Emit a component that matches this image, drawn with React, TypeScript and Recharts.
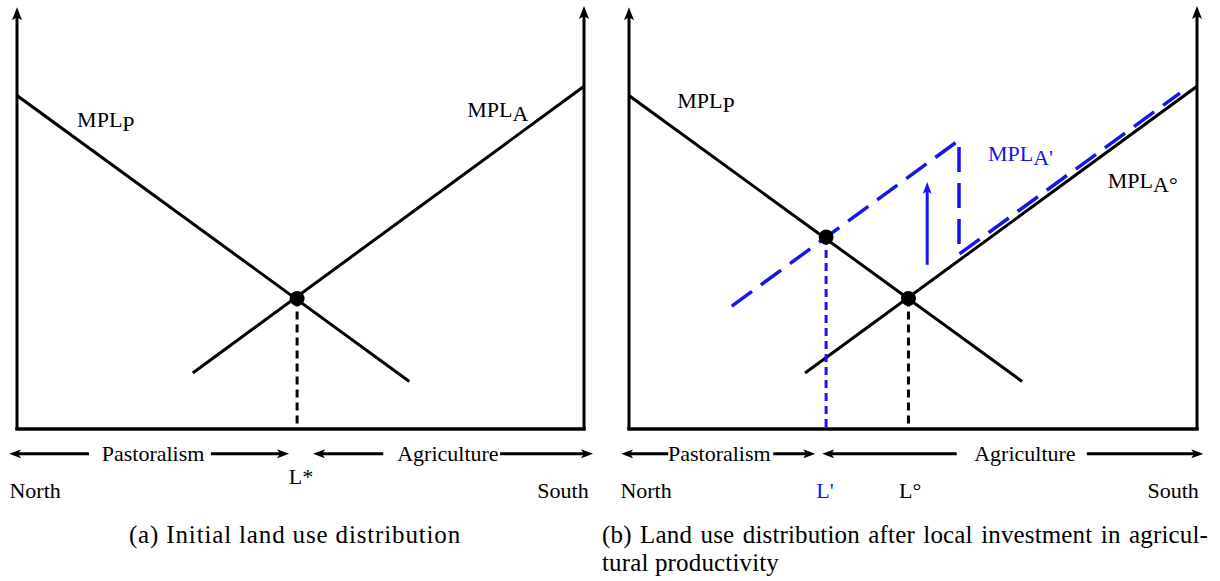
import React from 'react'
import { LineChart, Line, XAxis, YAxis, ReferenceLine, ReferenceDot } from 'recharts'

const FONT = '"Liberation Serif", "Times New Roman", serif'
const BLUE = '#1616e8'

// x: land, North (0) -> South (100); y: marginal product of labour (0-100)
const mplP = [{ x: 0, y: 79.2 }, { x: 69.2, y: 11.3 }]
const mplA = [{ x: 31, y: 13.3 }, { x: 100, y: 81.4 }]
const mplAPrime = [
  { x: 18.1, y: 29.2 },
  { x: 58.1, y: 68.6 },
  { x: 58.1, y: 41.5 },
  { x: 97, y: 79.8 },
]
const lStar = { x: 49.4, y: 31 }
const lPrime = { x: 34.7, y: 45.6 }
const lDeg = { x: 49.2, y: 31 }
const shiftArrow = { x: 52.5, from: 39, to: 57.5 }

// arrows under the axis, [from, to]
const rowY = -5.9
const arrowsA = [[12.7, -0.5], [34.2, 47.1], [64.6, 53.1], [85.2, 100.7]]
const arrowsB = [[6.9, -0.5], [25.4, 31.9], [57.7, 34.9], [80.6, 100.2]]

const rowLabelsA = [
  { x: 24, y: rowY, text: 'Pastoralism' },
  { x: 76, y: rowY, text: 'Agriculture' },
  { x: 50.1, y: -11.4, text: 'L*' },
  { x: 3.2, y: -14.5, text: 'North' },
  { x: 96.3, y: -14.5, text: 'South' },
]
const rowLabelsB = [
  { x: 15.9, y: rowY, text: 'Pastoralism' },
  { x: 69.7, y: rowY, text: 'Agriculture' },
  { x: 34.5, y: -14.5, text: "L'", color: BLUE },
  { x: 49.5, y: -14.5, text: 'L°' },
  { x: 3, y: -14.5, text: 'North' },
  { x: 95.8, y: -14.5, text: 'South' },
]

const curveLabelsA = [
  { x: 10.6, y: 71.7, main: 'MPL', sub: 'P' },
  { x: 79.4, y: 74.1, main: 'MPL', sub: 'A' },
]
const curveLabelsB = [
  { x: 8.5, y: 76.2, main: 'MPL', sub: 'P' },
  { x: 63.2, y: 63.7, main: 'MPL', sub: "A'", color: BLUE },
  { x: 84.3, y: 57.2, main: 'MPL', sub: 'A°' },
]

const txt = (key: string, x: number, y: number, text: string, color = '#000') => (
  <ReferenceDot
    key={key}
    x={x}
    y={y}
    r={0}
    ifOverflow="visible"
    shape={(p: any) => (
      <text x={p.cx} y={p.cy} textAnchor="middle" dominantBaseline="central"
        fontFamily={FONT} fontSize={22} fill={color}>
        {text}
      </text>
    )}
  />
)

const mplLabel = (key: string, l: any) => (
  <ReferenceDot
    key={key}
    x={l.x}
    y={l.y}
    r={0}
    ifOverflow="visible"
    shape={(p: any) => (
      <text x={p.cx} y={p.cy} fontFamily={FONT} fontSize={22} fill={l.color ?? '#000'}>
        <tspan>{l.main}</tspan>
        <tspan dy={4}>{l.sub}</tspan>
      </text>
    )}
  />
)

const arrow = (key: string, x1: number, y1: number, x2: number, y2: number, marker: string, color = '#000', w = 3) => (
  <ReferenceLine
    key={key}
    segment={[{ x: x1, y: y1 }, { x: x2, y: y2 }]}
    stroke={color}
    strokeWidth={w}
    ifOverflow="visible"
    markerEnd={`url(#${marker})`}
  />
)

const frame = (p: string) => [
  arrow(p + 'ax-l', 0, 0, 0, 99, 'axHead'),
  arrow(p + 'ax-r', 100, 0, 100, 99.3, 'axHead'),
  <ReferenceLine key={p + 'ax-b'} segment={[{ x: 0, y: 0 }, { x: 100, y: 0 }]}
    stroke="#000" strokeWidth={3.5} strokeLinecap="square" ifOverflow="visible" />,
]

const axes = [
  <XAxis key="x" type="number" dataKey="x" domain={[0, 100]} hide allowDataOverflow />,
  <YAxis key="y" type="number" dataKey="y" domain={[0, 100]} hide allowDataOverflow />,
]

export default function App() {
  return (
    <div style={{ position: 'absolute', left: 0, top: 0, width: 1220, height: 581, background: '#fff', fontFamily: FONT }}>
      <svg width={0} height={0} style={{ position: 'absolute' }}>
        <defs>
          <marker id="axHead" markerUnits="userSpaceOnUse" markerWidth={13} markerHeight={10}
            viewBox="0 0 13 10" refX={8} refY={5} orient="auto">
            <path d="M0,0 L13,5 L0,10 L3,5 z" fill="#000" />
          </marker>
          <marker id="rowHead" markerUnits="userSpaceOnUse" markerWidth={12} markerHeight={9}
            viewBox="0 0 12 9" refX={7} refY={4.5} orient="auto">
            <path d="M0,0 L12,4.5 L0,9 L3,4.5 z" fill="#000" />
          </marker>
          <marker id="blueHead" markerUnits="userSpaceOnUse" markerWidth={12} markerHeight={9}
            viewBox="0 0 12 9" refX={7} refY={4.5} orient="auto">
            <path d="M0,0 L12,4.5 L0,9 L3,4.5 z" fill={BLUE} />
          </marker>
        </defs>
      </svg>

      <div style={{ position: 'absolute', left: 0, top: 0 }}>
        <LineChart width={610} height={581} margin={{ top: 8, left: 17, right: 26, bottom: 152 }}>
          {axes}
          {frame('a')}
          <Line data={mplP} dataKey="y" type="linear" stroke="#000" strokeWidth={3} dot={false} isAnimationActive={false} />
          <Line data={mplA} dataKey="y" type="linear" stroke="#000" strokeWidth={3} dot={false} isAnimationActive={false} />
          <ReferenceLine segment={[{ x: lStar.x, y: lStar.y }, { x: lStar.x, y: 0 }]}
            stroke="#000" strokeWidth={3} strokeDasharray="8 5" />
          <ReferenceDot x={lStar.x} y={lStar.y} r={7.5} fill="#000" stroke="none" />
          {arrowsA.map((a, i) => arrow('ra' + i, a[0], rowY, a[1], rowY, 'rowHead'))}
          {rowLabelsA.map((l, i) => txt('la' + i, l.x, l.y, l.text))}
          {curveLabelsA.map((l, i) => mplLabel('ca' + i, l))}
        </LineChart>
      </div>

      <div style={{ position: 'absolute', left: 610, top: 0 }}>
        <LineChart width={610} height={581} margin={{ top: 8, left: 19, right: 23, bottom: 152 }}>
          {axes}
          {frame('b')}
          <Line data={mplP} dataKey="y" type="linear" stroke="#000" strokeWidth={3} dot={false} isAnimationActive={false} />
          <Line data={mplA} dataKey="y" type="linear" stroke="#000" strokeWidth={3} dot={false} isAnimationActive={false} />
          <Line data={mplAPrime} dataKey="y" type="linear" stroke={BLUE} strokeWidth={3.5}
            strokeDasharray="25 11" dot={false} isAnimationActive={false} />
          <ReferenceLine segment={[{ x: lPrime.x, y: lPrime.y }, { x: lPrime.x, y: 0 }]}
            stroke={BLUE} strokeWidth={3} strokeDasharray="8 5" />
          <ReferenceLine segment={[{ x: lDeg.x, y: lDeg.y }, { x: lDeg.x, y: 0 }]}
            stroke="#000" strokeWidth={3} strokeDasharray="8 5" />
          {arrow('shift', shiftArrow.x, shiftArrow.from, shiftArrow.x, shiftArrow.to, 'blueHead', BLUE, 3)}
          <ReferenceDot x={lPrime.x} y={lPrime.y} r={7.5} fill="#000" stroke="none" />
          <ReferenceDot x={lDeg.x} y={lDeg.y} r={7.5} fill="#000" stroke="none" />
          {arrowsB.map((a, i) => arrow('rb' + i, a[0], rowY, a[1], rowY, 'rowHead'))}
          {rowLabelsB.map((l, i) => txt('lb' + i, l.x, l.y, l.text, l.color))}
          {curveLabelsB.map((l, i) => mplLabel('cb' + i, l))}
        </LineChart>
      </div>

      <div style={{ position: 'absolute', left: 95, top: 521, width: 400, textAlign: 'center',
        fontSize: 25, letterSpacing: 0.85, lineHeight: '28px', color: '#000' }}>
        (a) Initial land use distribution
      </div>
      <div style={{ position: 'absolute', left: 602, top: 521, width: 606,
        fontSize: 25, letterSpacing: 0.15, lineHeight: '28px', color: '#000' }}>
        <div style={{ textAlign: 'justify', textAlignLast: 'justify' }}>
          (b) Land use distribution after local investment in agricul-
        </div>
        <div>tural productivity</div>
      </div>
    </div>
  )
}
